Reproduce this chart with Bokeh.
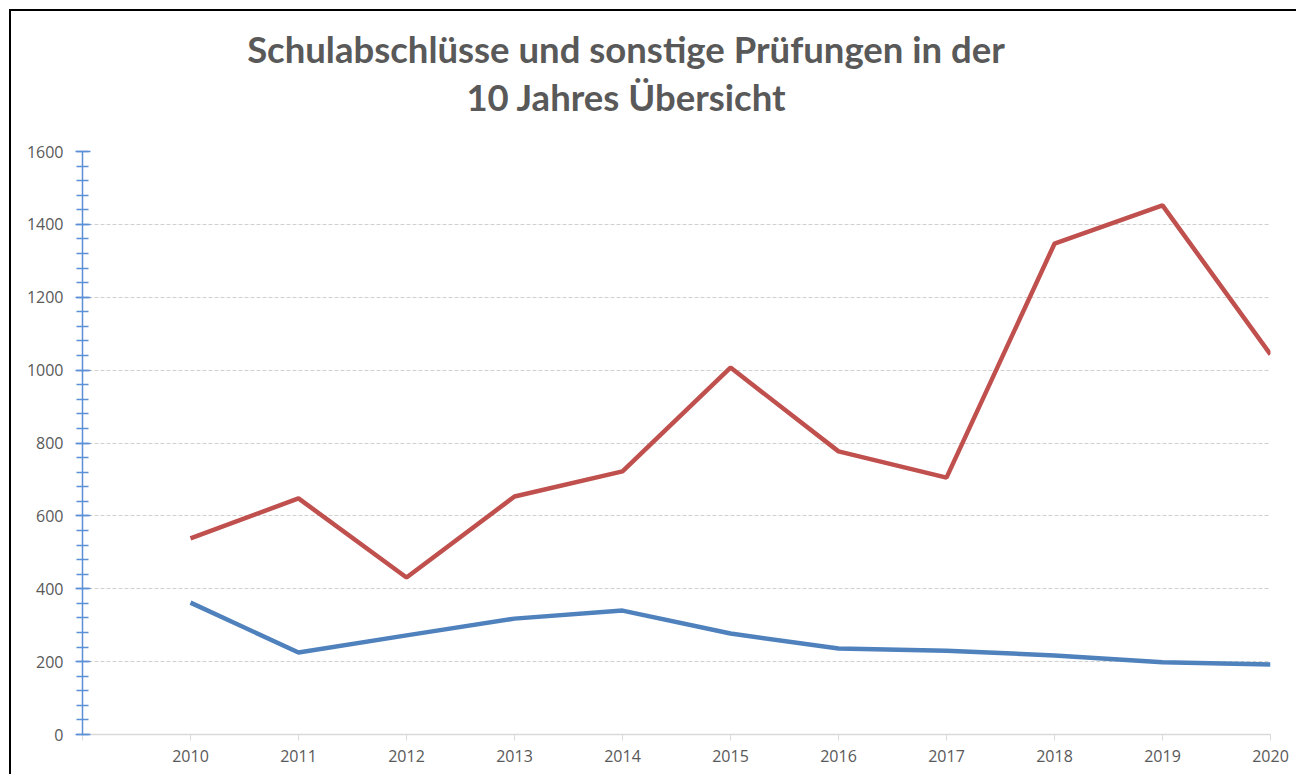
from bokeh.plotting import figure
from bokeh.models import SingleIntervalTicker, FixedTicker, Range1d, Div
from bokeh.layouts import column
from bokeh.embed import file_html
from bokeh.resources import INLINE

years = [2010, 2011, 2012, 2013, 2014, 2015, 2016, 2017, 2018, 2019, 2020]
sonstige = [538, 648, 431, 653, 722, 1007, 777, 705, 1347, 1452, 1043]
schulabschluesse = [362, 225, 272, 318, 340, 277, 236, 230, 217, 198, 192]
title_lines = ["Schulabschlüsse und sonstige Prüfungen in der", "10 Jahres Übersicht"]

title_html = ('<div style="width:1220px; padding-top:9px; text-align:center; font-family:Lato; '
              'font-weight:bold; font-size:36.5px; color:#595959; line-height:48px;">'
              + "<br>".join(title_lines) + "</div>")
title = Div(text=title_html, width=1232, height=114)

p = figure(width=1285, height=639, output_backend="svg", toolbar_location=None,
           x_range=Range1d(2009, 2020), y_range=Range1d(0, 1600),
           min_border_left=71, min_border_right=26, min_border_top=16, min_border_bottom=40)
p.outline_line_color = None
p.background_fill_color = "white"
p.border_fill_color = "white"

p.line(years, sonstige, line_color="#c0504d", line_width=4.5)
p.line(years, schulabschluesse, line_color="#4f81bd", line_width=4.5)

# y axis
p.yaxis.ticker = SingleIntervalTicker(interval=200, num_minor_ticks=5)
p.yaxis.axis_line_color = "#5b8fd6"
p.yaxis.axis_line_width = 1.5
p.yaxis.major_tick_line_color = "#5b8fd6"
p.yaxis.minor_tick_line_color = "#5b8fd6"
p.yaxis.major_tick_in = 8
p.yaxis.major_tick_out = 7
p.yaxis.minor_tick_in = 6
p.yaxis.minor_tick_out = 6
p.yaxis.major_tick_line_width = 1.5
p.yaxis.minor_tick_line_width = 1.5
p.yaxis.major_label_text_font = "Open Sans"
p.yaxis.major_label_text_font_size = "16px"
p.yaxis.major_label_text_color = "#595959"
p.yaxis.major_label_standoff = 12

# x axis
p.xaxis.ticker = FixedTicker(ticks=[2009] + years)
p.xaxis.major_label_overrides = {2009: ""}
p.xaxis.axis_line_color = "#d9d9d9"
p.xaxis.axis_line_width = 1.5
p.xaxis.major_tick_line_color = "#d9d9d9"
p.xaxis.major_tick_in = 0
p.xaxis.major_tick_out = 6
p.xaxis.minor_tick_line_color = None
p.xaxis.major_label_text_font = "Open Sans"
p.xaxis.major_label_text_font_size = "16px"
p.xaxis.major_label_text_color = "#595959"
p.xaxis.major_label_standoff = 9

p.xgrid.grid_line_color = None
p.ygrid.grid_line_color = "#d0d0d0"
p.ygrid.grid_line_dash = "4 2"
p.ygrid.grid_line_width = 1

layout = column(title, p, spacing=0,
                styles={"border-left": "2px solid #000", "border-top": "2px solid #000",
                        "background-color": "white", "margin-left": "9px", "margin-top": "9px"})

open("out.html", "w").write(file_html(layout, INLINE))
